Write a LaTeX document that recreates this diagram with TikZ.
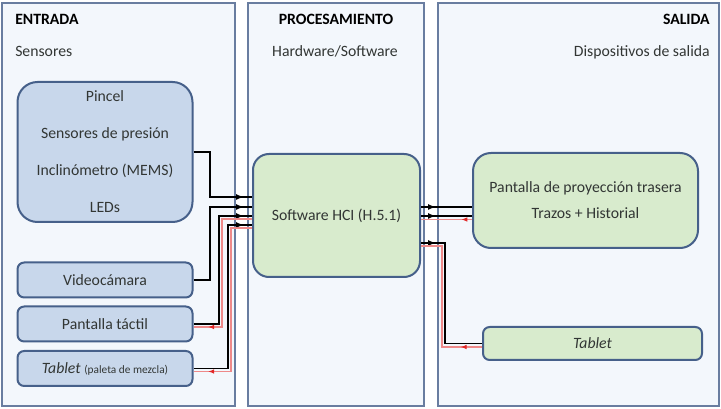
\documentclass[tikz,border=0pt]{standalone}
\usepackage{fontspec}
\setmainfont{Carlito}
\usetikzlibrary{arrows.meta,calc,decorations.markings}
\definecolor{PanelClr}{RGB}{243,247,252}
\definecolor{PanelLine}{RGB}{105,125,160}
\definecolor{BoxLine}{RGB}{70,96,138}
\definecolor{InClr}{RGB}{200,215,235}
\definecolor{OutClr}{RGB}{216,235,205}
\definecolor{TxtClr}{RGB}{50,54,52}
\definecolor{BackClr}{RGB}{225,40,40}

\begin{document}
\begin{tikzpicture}[x=0.75pt,y=-0.75pt,font=\fontsize{11.8}{14}\selectfont,
  panel/.style={fill=PanelClr,draw=PanelLine,line width=1.1pt},
  inbox/.style={draw=BoxLine,fill=InClr,line width=1.5pt,rounded corners=5pt,
    minimum width=131.25pt,minimum height=26.25pt,text=TxtClr,inner sep=0pt},
  outbox/.style={inbox,fill=OutClr},
  head/.style={font=\fontsize{11.8}{14}\selectfont\bfseries,text=black,inner sep=0pt},
  sub/.style={text=TxtClr,inner sep=0pt},
  signal/.style={line width=1.1pt,postaction={decorate},decoration={markings,
    mark=at position #1 with {\arrow{Latex[length=6pt,width=4.5pt]}}}},
  feedback/.style={BackClr!55,line width=0.8pt,postaction={decorate},decoration={markings,
    mark=at position #1 with {\arrow[BackClr]{Latex[length=4.5pt,width=3.5pt]}}}}]

\useasboundingbox (0,0) rectangle (721,409);
\fill[white] (0,0) rectangle (721,409);

\draw[panel] (2,3) rectangle (235,406);
\draw[panel] (248,3) rectangle (424,406);
\draw[panel] (438,3) rectangle (719,406);

\node[head,anchor=base west] (entrada) at (15,25) {ENTRADA};
\node[sub,anchor=base west] (sensores) at (15,57) {Sensores};
\node[head,anchor=base] (proc) at (336,25) {PROCESAMIENTO};
\node[sub,anchor=base] (hwsw) at (335,57) {Hardware/Software};
\node[head,anchor=base east] (salida) at (710,25) {SALIDA};
\node[sub,anchor=base east] (dispos) at (710,57) {Dispositivos de salida};

\node[inbox,minimum height=105pt,rounded corners=15pt,align=center,
  font=\fontsize{11.8}{27.75}\selectfont] (pincel) at (105,152)
  {Pincel\\Sensores de presión\\Inclinómetro (MEMS)\\LEDs};
\node[inbox] (video) at (105,280) {Videocámara};
\node[inbox] (tactil) at (105,324) {Pantalla táctil};
\node[inbox] (tabin) at (105,368.5) {\textit{Tablet} {\fontsize{8.5}{10}\selectfont (paleta de mezcla)}};

\node[outbox,minimum width=125.25pt,minimum height=92.25pt,rounded corners=12pt]
  (soft) at (336.5,215.5) {Software HCI (H.5.1)};
\node[outbox,minimum width=168.75pt,minimum height=71.25pt,rounded corners=13.5pt,
  align=center,font=\fontsize{11.8}{19.5}\selectfont] (proy) at (585.5,200.5)
  {Pantalla de proyección trasera\\Trazos + Historial};
\node[outbox,minimum width=164.25pt,minimum height=24.75pt] (tabout) at (592.5,343.5)
  {\textit{Tablet}};

\draw[signal=-6pt] (pincel.east) -| (210,197) -- (soft.west |- 0,197);
\draw[signal=-6pt] (video.east) -| (210,207) -- (soft.west |- 0,207);
\draw[signal=-6pt] (tactil.east) -| (219,216) -- (soft.west |- 0,216);
\draw[signal=-6pt] (tabin.east) -| (228,225) -- (soft.west |- 0,225);
\draw[feedback=-11pt] (soft.west |- 0,219) -| (222,327) -- (tactil.east |- 0,327);
\draw[feedback=-11pt] (soft.west |- 0,228) -| (231,371.5) -- (tabin.east |- 0,371.5);

\draw[signal=11.25pt] (soft.east |- 0,207) -- (proy.west |- 0,207);
\draw[signal=11.25pt] (soft.east |- 0,216) -- (proy.west |- 0,216);
\draw[feedback=8pt] (proy.west |- 0,219.5) -- (soft.east |- 0,219.5);
\draw[signal=11.25pt] (soft.east |- 0,243) -| (445,343.5) -- (tabout.west);
\draw[feedback=16pt] (tabout.west |- 0,347) -| (442,246) -- (soft.east |- 0,246);

\end{tikzpicture}
\end{document}
